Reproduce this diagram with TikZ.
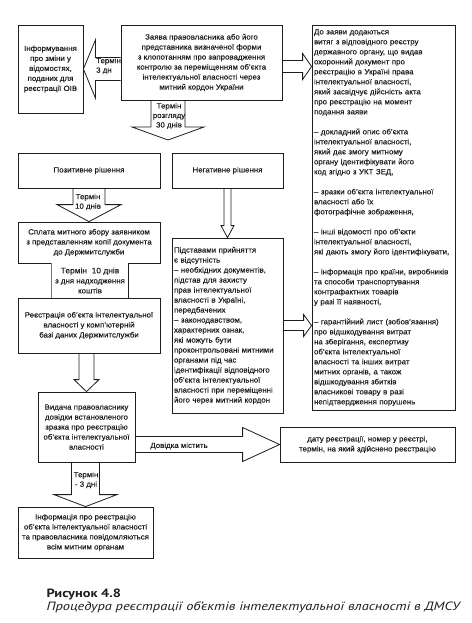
\documentclass[tikz,border=0pt]{standalone}
\usepackage{fontspec}
\setmainfont[FakeStretch=1.05, FakeBold=0.25]{Liberation Sans}
\newfontfamily\pidpys[FakeStretch=1.2]{PT Sans}
\usetikzlibrary{calc, backgrounds}
\definecolor{chorn}{RGB}{30,30,30}

% hollow block arrows: from, tip, shaft half, head half, head length
\newcommand{\strilkav}[5]{%
  \draw[strilka] let \p1=(#1), \p2=(#2) in
    (\x2-#3pt,\y1) -- (\x2-#3pt,\y2+#5pt) -- (\x2-#4pt,\y2+#5pt) -- (\x2,\y2)
    -- (\x2+#4pt,\y2+#5pt) -- (\x2+#3pt,\y2+#5pt) -- (\x2+#3pt,\y1);}
\newcommand{\strilkah}[5]{%
  \draw[strilka] let \p1=(#1), \p2=(#2), \n1={\x2-(#5pt)} in
    (\x1,\y2+#3pt) -- (\n1,\y2+#3pt) -- (\n1,\y2+#4pt) -- (\x2,\y2)
    -- (\n1,\y2-#4pt) -- (\n1,\y2-#3pt) -- (\x1,\y2-#3pt);}

\begin{document}
\begin{tikzpicture}[x=1pt, y=-1pt,
  blok/.style={draw=chorn, line width=0.8pt, text=chorn, align=center,
               font=\fontsize{7.5}{10}\selectfont, inner sep=2pt},
  mitka/.style={text=chorn, align=center, inner sep=0pt,
                font=\fontsize{7.5}{9.5}\selectfont},
  strilka/.style={draw=chorn, line width=0.8pt, fill=white}
]
\useasboundingbox (0,0) rectangle (471,623);

\node[blok, minimum width=65pt, minimum height=88pt] (info) at (50.5,69)
  {Інформування\\про зміни у\\відомостях,\\поданих для\\реєстрації ОІВ};
\node[blok, minimum width=161pt, minimum height=75pt] (zayava) at (201.5,62.5)
  {Заява правовласника або його\\представника визначеної форми\\з клопотанням про запровадження\\контролю за переміщенням об’єкта\\інтелектуальної власності через\\митний кордон України};
\node[blok, minimum width=143pt, minimum height=385pt, text width=139pt, align=left] (dodayut) at (383.5,217.5)
  {До заяви додаються\\витяг з відповідного реєстру\\державного органу, що видав\\охоронний документ про\\реєстрацію в Україні права\\інтелектуальної власності,\\який засвідчує дійсність акта\\про реєстрацію на момент\\подання заяви\\[10pt]
   – докладний опис об’єкта\\інтелектуальної власності,\\який дає змогу митному\\органу ідентифікувати його\\код згідно з УКТ ЗЕД,\\[10pt]
   – зразки об’єкта інтелектуальної\\власності або їх\\фотографічне зображення,\\[10pt]
   – інші відомості про об’єкти\\інтелектуальної власності,\\які дають змогу його ідентифікувати,\\[10pt]
   – інформація про країни, виробників\\та способи транспортування\\контрафактних товарів\\у разі її наявності,\\[10pt]
   – гарантійний лист (зобов’язання)\\про відшкодування витрат\\на зберігання, експертизу\\об’єкта інтелектуальної\\власності та інших витрат\\митних органів, а також\\відшкодування збитків\\власникові товару в разі\\непідтвердження порушень};
\node[blok, minimum width=142pt, minimum height=35pt] (pozytyv) at (89,170.5) {Позитивне рішення};
\node[blok, minimum width=111pt, minimum height=35pt] (negatyv) at (227.5,170.5) {Негативне рішення};
\node[blok, minimum width=142pt, minimum height=41pt] (splata) at (89,242.5)
  {Сплата митного збору заявником\\з представленням копії документа\\до Держмитслужби};
\node[blok, draw=none, fill=white, minimum width=76pt, minimum height=35pt] (termin) at (90,280.5)
  {{\fontsize{8}{10}\selectfont Термін\ \ 10 днів}\\з дня надходження\\коштів};
\draw[chorn, line width=0.8pt] (termin.north east) -- (termin.south east);
\draw[chorn!60, line width=0.5pt] (termin.north west) -- (termin.south west);
\node[blok, minimum width=142pt, minimum height=55pt] (reyestr) at (89,325.5)
  {Реєстрація об’єкта інтелектуальної\\власності у комп’ютерній\\базі даних Держмитслужби};
\node[blok, minimum width=111pt, minimum height=175pt, text width=107pt, align=left] (pidstavy) at (227.5,325.5)
  {Підставами прийняття\\є відсутність\\– необхідних документів,\\підстав для захисту\\прав інтелектуальної\\власності в Україні,\\передбачених\\– законодавством,\\характерних ознак,\\які можуть бути\\проконтрольовані митними\\органами під час\\ідентифікації відповідного\\об’єкта інтелектуальної\\власності при переміщенні\\його через митний кордон};
\node[blok, minimum width=97pt, minimum height=70pt] (vydacha) at (86.5,427)
  {Видача правовласнику\\довідки встановленого\\зразка про реєстрацію\\об’єкта інтелектуальної\\власності};
\node[blok, minimum width=175pt, minimum height=35pt] (datu) at (367.5,444.5)
  {дату реєстрації, номер у реєстрі,\\термін, на який здійснено реєстрацію};
\node[blok, minimum width=135pt, minimum height=51pt] (final) at (85.5,532.5)
  {Інформація про реєстрацію\\об’єкта інтелектуальної власності\\та правовласника повідомляються\\всім митним органам};

\coordinate (k30) at (168,140);

\begin{scope}[on background layer]
\fill[white] (0,0) rectangle (471,623);
\strilkah{zayava.west}{info.east}{11.5}{29}{-12}
\strilkah{zayava.east}{$(dodayut.west |- zayava.east)+(0,4)$}{6}{13}{9}
\strilkav{zayava.south -| k30}{k30}{17}{36}{13}
\strilkav{pozytyv.south}{splata.north}{16}{32}{17}
\strilkav{negatyv.south}{pidstavy.north}{3.5}{6.5}{12}
\strilkav{reyestr.south -| vydacha.north}{vydacha.north}{7.5}{12.5}{12}
\strilkah{vydacha.east}{datu.west}{8}{17}{37}
\strilkav{vydacha.south}{final.north}{14}{31.5}{12}
\strilkah{pidstavy.east}{dodayut.west |- pidstavy.east}{5}{11}{8}
\end{scope}

\node[mitka, align=left, anchor=west] (m1) at (96,66) {Термін\\3 дн};
\node[mitka] (m2) at (169,116) {Термін\\розгляду\\30 днів};
\node[mitka] (m3) at (88,202) {Термін\\10 днів};
\node[mitka] (m4) at (179,446) {Довідка містить};
\node[mitka] (m5) at (86,480) {Термін\\- 3 дні};

\node[anchor=base west, text=chorn, font=\pidpys\bfseries\fontsize{12}{14}\selectfont] (rys) at (43,597) {Рисунок 4.8};
\node[anchor=base west, text=chorn, font=\pidpys\itshape\fontsize{12}{14}\selectfont] (nazva) at (43,610)
  {Процедура реєстрації об’єктів інтелектуальної власності в ДМСУ};
\end{tikzpicture}
\end{document}
